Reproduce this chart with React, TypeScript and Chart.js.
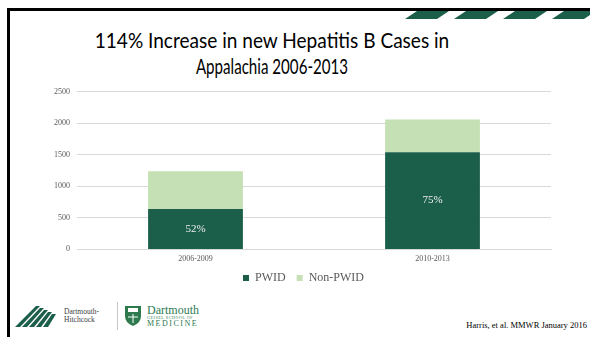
import React, { useEffect, useRef } from "react";
import { Chart, registerables } from "chart.js";

Chart.register(...registerables);

const categories = ["2006-2009", "2010-2013"];
const pwidCases = [640, 1543];
const nonPwidCases = [600, 518];
const pwidShareLabels = ["52%", "75%"];
const yMax = 2500;
const yStep = 500;
const titleLines = ["114% Increase in new Hepatitis B Cases in", "Appalachia 2006-2013"];
const citation = "Harris, et al. MMWR January 2016";

const DARK = "#1b5e4a";
const LIGHT = "#c5e0b4";
const SERIF = "'Liberation Serif', 'Times New Roman', Times, serif";

const barLabelPlugin = {
  id: "barLabels",
  afterLayout(chart: any) {
    const lg = chart.legend;
    if (lg) {
      lg.left += 8;
      lg.right += 8;
    }
  },
  afterDatasetsDraw(chart: any) {
    const meta = chart.getDatasetMeta(0);
    const ctx = chart.ctx;
    ctx.save();
    ctx.fillStyle = "#f0f0f0";
    ctx.font = `11px ${SERIF}`;
    ctx.textAlign = "center";
    ctx.textBaseline = "middle";
    meta.data.forEach((bar: any, i: number) => {
      const mid = (bar.y + bar.base) / 2;
      ctx.fillText(pwidShareLabels[i], bar.x, mid);
    });
    ctx.restore();
  },
};

function ChartCanvas() {
  const ref = useRef<HTMLCanvasElement>(null);
  useEffect(() => {
    let chart: any = null;
    let cancelled = false;
    const build = () => {
      if (cancelled || !ref.current) return;
      chart = new Chart(ref.current, {
        type: "bar",
        data: {
          labels: categories,
          datasets: [
            { label: "PWID", data: pwidCases, backgroundColor: DARK, categoryPercentage: 1, barPercentage: 0.4 },
            { label: "Non-PWID", data: nonPwidCases, backgroundColor: LIGHT, categoryPercentage: 1, barPercentage: 0.4 },
          ],
        },
        options: {
          animation: false,
          responsive: false,
          maintainAspectRatio: false,
          layout: { padding: { left: 0, right: 19, top: 6, bottom: 0 } },
          plugins: {
            title: { display: false },
            tooltip: { enabled: false },
            legend: {
              position: "bottom",
              labels: {
                boxWidth: 6,
                boxHeight: 6,
                padding: 11,
                color: "#595959",
                font: { family: SERIF, size: 12 },
              },
            },
          },
          scales: {
            x: {
              stacked: true,
              grid: { display: false },
              border: { display: true, color: "#d9d9d9", width: 1 },
              ticks: { color: "#595959", font: { family: SERIF, size: 8 }, padding: -3 },
            },
            y: {
              stacked: true,
              min: 0,
              max: yMax,
              ticks: {
                stepSize: yStep,
                color: "#595959",
                font: { family: SERIF, size: 8 },
                padding: 7,
                callback: (v: any) => String(v),
              },
              grid: { color: "#d9d9d9", drawTicks: false },
              border: { display: false },
              afterFit(axis: any) {
                axis.width = 37;
              },
            },
          },
        },
        plugins: [barLabelPlugin],
      });
    };
    const fonts: any = (document as any).fonts;
    if (fonts && fonts.load) {
      Promise.all([fonts.load(`12px "Liberation Serif"`), fonts.load(`8px "Liberation Serif"`)])
        .then(build, build);
    } else {
      build();
    }
    return () => {
      cancelled = true;
      if (chart) chart.destroy();
    };
  }, []);
  return <canvas ref={ref} width={530} height={214} style={{ position: "absolute", left: 40, top: 80, width: 530, height: 214 }} />;
}

function Stripes() {
  const xs = [405, 454, 503, 552];
  return (
    <svg width={590} height={30} style={{ position: "absolute", left: 0, top: 0 }}>
      {xs.map((x, i) => (
        <polygon key={i} points={`${x},19 ${x + 12},11 ${x + 44},11 ${x + 32},19`} fill={DARK} />
      ))}
    </svg>
  );
}

function Logos() {
  return (
    <div style={{ position: "absolute", left: 0, top: 296, width: 300, height: 40 }}>
      <svg width={50} height={40} style={{ position: "absolute", left: 14, top: 0 }}>
        {[0, 1, 2, 3, 4].map((i) => (
          <polygon
            key={i}
            points={`${1 + i * 7},31 ${22 + i * 4},${10 + i * 2} ${26 + i * 4},${10 + i * 2} ${6 + i * 7},31`}
            fill={DARK}
          />
        ))}
      </svg>
      <div style={{ position: "absolute", left: 64, top: 12, fontFamily: SERIF, fontSize: 7.5, lineHeight: "8px", color: "#404040" }}>
        Dartmouth-
        <br />
        Hitchcock
      </div>
      <div style={{ position: "absolute", left: 117, top: 6, width: 1, height: 28, background: "#c8c8c8" }} />
      <svg width={18} height={22} style={{ position: "absolute", left: 124, top: 9 }}>
        <path d="M1,1 L17,1 L17,11 Q17,18 9,21 Q1,18 1,11 Z" fill="#2d7a4f" />
        <rect x={4} y={3} width={10} height={4} fill="#ffffff" />
        <line x1={9} y1={9} x2={9} y2={18} stroke="#ffffff" strokeWidth={1} />
        <line x1={4} y1={12} x2={14} y2={12} stroke="#ffffff" strokeWidth={1} />
      </svg>
      <div style={{ position: "absolute", left: 147, top: 8, fontFamily: SERIF, fontSize: 12, lineHeight: "12px", color: "#2d7a4f" }}>
        Dartmouth
      </div>
      <div style={{ position: "absolute", left: 147, top: 20, fontFamily: SERIF, fontSize: 4, lineHeight: "4px", letterSpacing: 0.6, color: "#2d7a4f" }}>
        GEISEL SCHOOL OF
      </div>
      <div style={{ position: "absolute", left: 147, top: 24, fontFamily: SERIF, fontSize: 8, lineHeight: "8px", letterSpacing: 1.5, color: "#2d7a4f" }}>
        MEDICINE
      </div>
    </div>
  );
}

const titleStyle: any = {
  position: "absolute",
  left: 22,
  width: 500,
  textAlign: "center",
  fontFamily: "Lato, 'Noto Sans', sans-serif",
  fontSize: 21,
  lineHeight: "26px",
  color: "#000",
  whiteSpace: "nowrap",
  transformOrigin: "center",
};

export default function App() {
  return (
    <div style={{ position: "fixed", left: 0, top: 0, width: 590, height: 337, background: "#ffffff", overflow: "hidden" }}>
      <div style={{ position: "absolute", left: 7, top: 8, width: 590, height: 3, background: "#000" }} />
      <div style={{ position: "absolute", left: 7, top: 8, width: 3, height: 337, background: "#000" }} />
      <Stripes />
      <div style={{ ...titleStyle, top: 27, transform: "scaleX(0.907)" }}>{titleLines[0]}</div>
      <div style={{ ...titleStyle, top: 53, transform: "scaleX(0.72)" }}>{titleLines[1]}</div>
      <ChartCanvas />
      <Logos />
      <div style={{ position: "absolute", right: 3, top: 320, fontFamily: SERIF, fontSize: 8.5, color: "#000" }}>{citation}</div>
    </div>
  );
}
